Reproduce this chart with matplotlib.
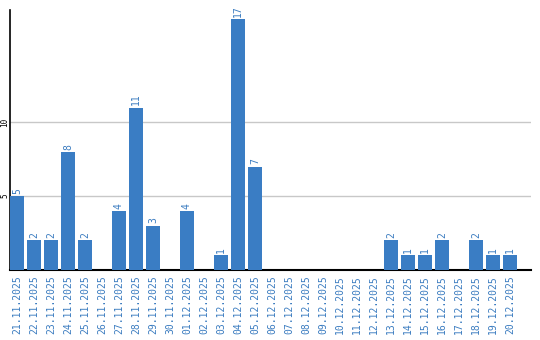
import matplotlib
matplotlib.use("Agg")
import matplotlib.pyplot as plt

# Daten
dates = ["21.11.2025", "22.11.2025", "23.11.2025", "24.11.2025", "25.11.2025",
         "26.11.2025", "27.11.2025", "28.11.2025", "29.11.2025", "30.11.2025",
         "01.12.2025", "02.12.2025", "03.12.2025", "04.12.2025", "05.12.2025",
         "06.12.2025", "07.12.2025", "08.12.2025", "09.12.2025", "10.12.2025",
         "11.12.2025", "12.12.2025", "13.12.2025", "14.12.2025", "15.12.2025",
         "16.12.2025", "17.12.2025", "18.12.2025", "19.12.2025", "20.12.2025"]
counts = [5, 2, 2, 8, 2, 0, 4, 11, 3, 0,
          4, 0, 1, 17, 7, 0, 0, 0, 0, 0,
          0, 0, 2, 1, 1, 2, 0, 2, 1, 1]
yticks = [5, 10]

blue = "#3a7dc4"
label_blue = "#3b7cc0"

fig = plt.figure(figsize=(5.4, 3.4), dpi=100)
ax = fig.add_axes([10 / 540, 70 / 340, 521 / 540, 260 / 340])

x = range(len(dates))
bars = ax.bar(x, counts, width=0.82, color=blue, zorder=3)

# Werte über den Balken
for xi, v in zip(x, counts):
    if v > 0:
        ax.text(xi, v + 0.15, str(v), rotation=90, ha="center", va="bottom",
                color=label_blue, fontsize=7, family="DejaVu Sans Mono")

ax.set_xlim(-0.41, 30.24)
ax.set_ylim(0, 17.6)
ax.set_yticks(yticks)
ax.set_yticklabels([str(t) for t in yticks], rotation=90, va="center",
                   fontsize=5.5, family="DejaVu Sans Mono")
ax.set_xticks(list(x))
ax.set_xticklabels(dates, rotation=90, fontsize=7, color=label_blue,
                   family="DejaVu Sans Mono")
ax.tick_params(axis="both", length=0, pad=4)
ax.tick_params(axis="y", pad=0.3)
ax.grid(axis="y", color="#c8c8c8", linewidth=1, zorder=0)

for side in ["top", "right"]:
    ax.spines[side].set_visible(False)
ax.spines["left"].set_linewidth(1.2)
ax.spines["bottom"].set_linewidth(1.5)

fig.savefig("out.png", dpi=100)
